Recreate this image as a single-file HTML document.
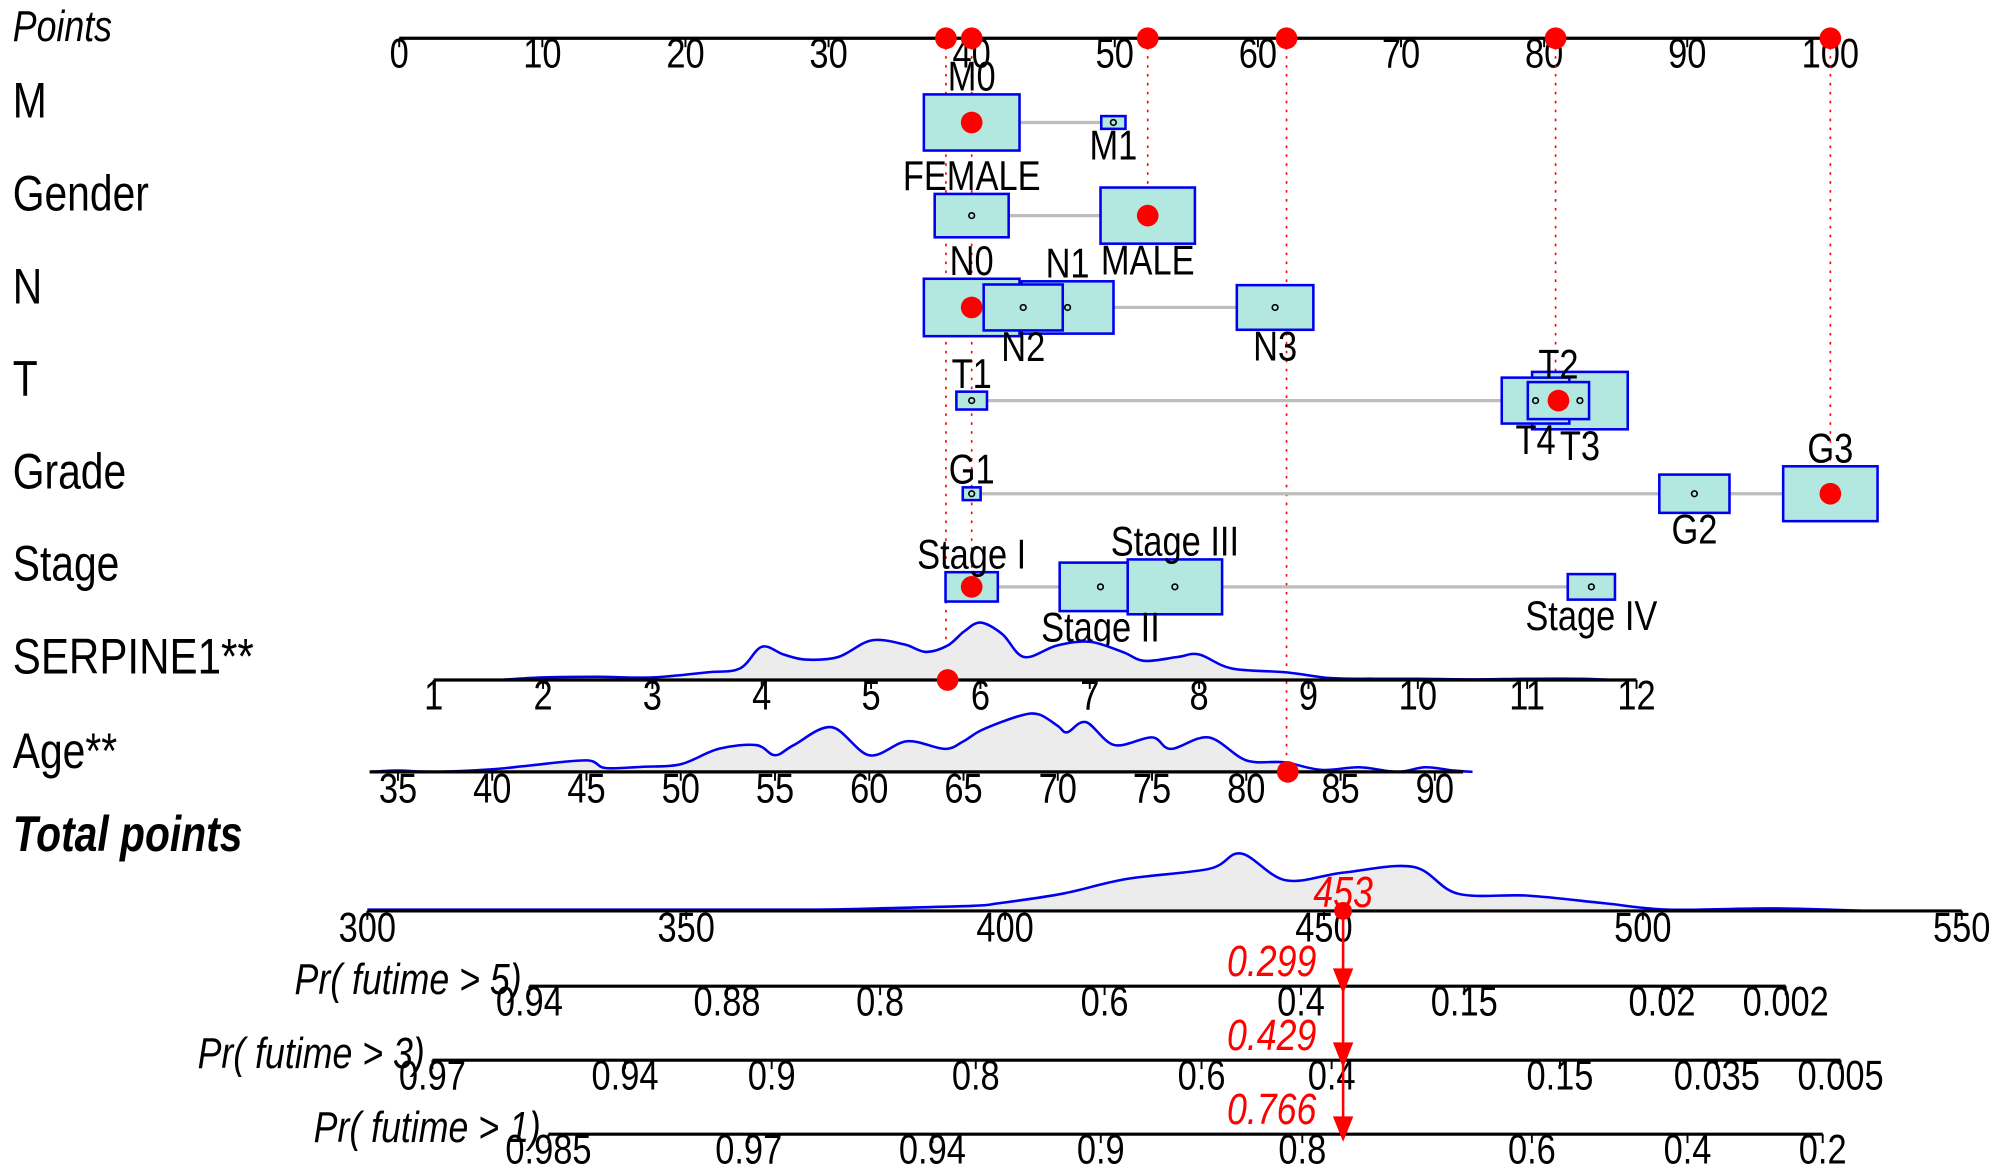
<!DOCTYPE html>
<html><head><meta charset="utf-8"><style>
html,body{margin:0;padding:0;background:#fff;}
svg{display:block;font-family:"Liberation Sans",Arial,sans-serif;}
</style></head><body>
<svg id="chart" width="2000" height="1175" viewBox="0 0 1568 921" preserveAspectRatio="none" xmlns="http://www.w3.org/2000/svg"></svg>
<script>
// ---------- data ----------
const pointTicks = [0,10,20,30,40,50,60,70,80,90,100];
const selectedPoints = [38.2,40,52.3,62,80.8,100];
const rowNames = ["M","Gender","N","T","Grade","Stage"];
const mLevels = ["M0","M1"];           const mPts = [40,49.9];    const mSize=[[37.5,22],[9.5,5]];  const mLab=["above","below"];
const gLevels = ["FEMALE","MALE"];     const gPts = [40,52.3];    const gSize=[[29,17],[37,22]];    const gLab=["above","below"];
const nLevels = ["N0","N1","N2","N3"]; const nPts = [40,46.7,43.6,61.2]; const nSize=[[37.5,22.5],[36,20.5],[31,18],[30,17.5]]; const nLab=["above","above","below","below"];
const tLevels = ["T1","T3","T4","T2"]; const tPts = [40,82.5,79.4,81];   const tSize=[[12,7],[37.5,22.5],[26.5,18],[24,14.5]]; const tLab=["above","below","below","above"];
const grLevels = ["G1","G2","G3"];     const grPts = [40,90.5,100];      const grSize=[[7,5],[27.5,15],[37,21.5]]; const grLab=["above","below","above"];
const sLevels = ["Stage I","Stage II","Stage III","Stage IV"]; const sPts=[40,49,54.2,83.3]; const sSize=[[20.5,11.5],[32,19],[37,21.5],[18.5,10]]; const sLab=["above","below","above","below"];
const selected = {M:"M0",Gender:"MALE",N:"N0",T:"T2",Grade:"G3",Stage:"Stage I"};
const serTicks = [1,2,3,4,5,6,7,8,9,10,11,12];
const serDensX = [1.6,2,2.5,3,3.5,3.8,4,4.2,4.4,4.7,5,5.3,5.5,5.7,5.85,6,6.2,6.4,6.7,7,7.3,7.5,7.8,8,8.3,8.8,9.2,9.6,10,10.5,11,11.5,11.8];
const serDensY = [0,2,2.5,2,6,9,26,20,16,18,31,28,22,27,38,45,36,18,27,30,22,15,18,20,9,6,1.5,1,1,0.5,1,1,0];
const serSelected = 5.7;
const ageTicks = [35,40,45,50,55,60,65,70,75,80,85,90];
const ageDensX = [33.5,35,37,40,42,45,46,48,50,52,54,55,56,58,60,62,64,65,66,68,69,70,70.5,71.5,73,75,76,78,80,82,84,86,88,89.5,91,92];
const ageDensY = [0,1,0,2,5,9,3,4,6,18,21,13,21,35,13,24,18,24,33,44,45,36,31,39,21,27,18,27,9,7.5,1.5,3.6,0,3.6,1,0];
const ageSelected = 82.2;
const totalTicks = [300,350,400,450,500,550];
const totDensX = [300,320,350,370,380,395,399,409,419,432,437,444,453,464,471,482,494,504,520,535];
const totDensY = [1,1,1,1,2,4,6,13.5,25,33,45,24,30,34.5,13.5,12,6,1,2,0];
const totalSelected = 453;
const pr5Labels = ["0.94","0.88","0.8","0.6","0.4","0.15","0.02","0.002"];
const pr5AtTotal = [325.4,356.4,380.4,415.6,446.4,472,503,522.4];
const pr3Labels = ["0.97","0.94","0.9","0.8","0.6","0.4","0.15","0.035","0.005"];
const pr3AtTotal = [310.2,340.4,363.4,395.4,430.8,451.2,487,511.6,531];
const pr1Labels = ["0.985","0.97","0.94","0.9","0.8","0.6","0.4","0.2"];
const pr1AtTotal = [328.4,359.8,388.6,415,446.6,482.6,507,528.2];
const predValues = ["0.299","0.429","0.766"];

// ---------- scales ----------
const ptsX = p => 313 + 11.22*p;
const serX = v => 340 + (v-1)*85.73;
const ageX = v => 312 + (v-35)*14.78;
const totX = v => 288 + (v-300)*5;

const svg = document.getElementById('chart');
const NS = "http://www.w3.org/2000/svg";
const VS = 1.22;
function mk(tag, attrs, parent){ const e=document.createElementNS(NS,tag); for(const k in attrs) e.setAttribute(k,attrs[k]); (parent||svg).appendChild(e); return e; }
function txt(s, x, y, attrs, parent){ const e=mk('text',Object.assign({x:0,y:0,transform:`translate(${x},${y}) scale(1,${VS})`},attrs||{}),parent); e.textContent=s; return e; }
const TF = 27;

// ---------- Points axis ----------
const gAx = mk('g',{});


txt("Points",10,32,{'font-size':28,'font-style':'italic'},gAx);
mk('line',{x1:ptsX(0),x2:ptsX(100),y1:30,y2:30,stroke:'#000','stroke-width':2.5},gAx);
pointTicks.forEach(t=>{
  mk('line',{x1:ptsX(t),x2:ptsX(t),y1:30,y2:37,stroke:'#000','stroke-width':1.5},gAx);
  const e=txt(String(t),ptsX(t),53,{'font-size':TF,'text-anchor':'middle'},gAx);
  
  
});

// ---------- row labels ----------
const rowLabelYs = [80,153,226,298,371,443];
rowNames.forEach((n,i)=>{
  const e=txt(n,10,rowLabelYs[i]+12,{'font-size':32},svg);
  
  
});

// ---------- dotted guide lines ----------
const guideEnds = [533,460,169,605,314,387];
selectedPoints.forEach((p,i)=>{
  mk('line',{x1:ptsX(p),x2:ptsX(p),y1:30,y2:guideEnds[i],stroke:'#f00','stroke-width':1.3,'stroke-dasharray':'2,5'});
});
selectedPoints.forEach(p=>{ mk('circle',{cx:ptsX(p),cy:30,r:8.5,fill:'#f00'}); });

// ---------- categorical rows ----------
function catRow(name, y, levels, pts, sizes, labs){
  const g=mk('g',{});
  
  
  const xs=pts.map(ptsX);
  mk('line',{x1:Math.min(...xs),x2:Math.max(...xs),y1:y,y2:y,stroke:'#bdbdbd','stroke-width':2.5},g);
  levels.forEach((lv,i)=>{
    const x=xs[i], w=sizes[i][0], h=sizes[i][1];
    const r=mk('rect',{x:x-w,y:y-h,width:2*w,height:2*h,fill:'#b2e8df',stroke:'#0000ee','stroke-width':2},g);
    
    
  });
  levels.forEach((lv,i)=>{
    const x=xs[i], h=sizes[i][1];
    if(selected[name]===lv){ mk('circle',{cx:x,cy:y,r:8.5,fill:'#f00'},g); }
    else { mk('circle',{cx:x,cy:y,r:2.2,fill:'none',stroke:'#000','stroke-width':1.3},g); }
    const ly = labs[i]==="above" ? y-h-3 : y+h+24;
    const t=txt(lv,x,ly,{'font-size':TF,'text-anchor':'middle'},g);
    
    
  });
}
catRow("M",96,mLevels,mPts,mSize,mLab);
catRow("Gender",169,gLevels,gPts,gSize,gLab);
catRow("N",241,nLevels,nPts,nSize,nLab);
catRow("T",314,tLevels,tPts,tSize,tLab);
catRow("Grade",387,grLevels,grPts,grSize,grLab);
catRow("Stage",460,sLevels,sPts,sSize,sLab);

// ---------- density helper (smoothed) ----------
function smoothPath(P){
  let d="M"+P[0][0]+","+P[0][1];
  for(let i=0;i<P.length-1;i++){
    const p0=P[Math.max(0,i-1)],p1=P[i],p2=P[i+1],p3=P[Math.min(P.length-1,i+2)];
    const c1=[p1[0]+(p2[0]-p0[0])/6,p1[1]+(p2[1]-p0[1])/6];
    const c2=[p2[0]-(p3[0]-p1[0])/6,p2[1]-(p3[1]-p1[1])/6];
    d+=` C${c1[0]},${c1[1]} ${c2[0]},${c2[1]} ${p2[0]},${p2[1]}`;
  }
  return d;
}
function density(xs, ys, sx, base, name, parent){
  const P=xs.map((v,i)=>[sx(v),base-ys[i]]);
  const line=smoothPath(P);
  const a=mk('path',{d:line+` L${P[P.length-1][0]},${base} L${P[0][0]},${base} Z`,fill:'#ececec',stroke:'none'},parent);
  
  
  const p=mk('path',{d:line,fill:'none',stroke:'#0000ee','stroke-width':2,'stroke-linejoin':'round'},parent);
  
  
}

// ---------- SERPINE1 ----------
const gS=mk('g',{});


txt("SERPINE1**",10,528,{'font-size':32,textLength:189,lengthAdjust:'spacingAndGlyphs'},gS);
density(serDensX,serDensY,serX,533,'serpine1',gS);
mk('line',{x1:serX(1),x2:serX(12),y1:533,y2:533,stroke:'#000','stroke-width':2.5},gS);
serTicks.forEach(t=>{
  mk('line',{x1:serX(t),x2:serX(t),y1:533,y2:540,stroke:'#000','stroke-width':1.5},gS);
  txt(String(t),serX(t),556,{'font-size':TF,'text-anchor':'middle'},gS);
});
mk('circle',{cx:serX(serSelected),cy:533,r:8.5,fill:'#f00'},gS);

// ---------- Age ----------
const gA=mk('g',{});


txt("Age**",10,602,{'font-size':32},gA);
density(ageDensX,ageDensY,ageX,605,'age',gA);
mk('line',{x1:ageX(33.5),x2:ageX(91.5),y1:605,y2:605,stroke:'#000','stroke-width':2.5},gA);
ageTicks.forEach(t=>{
  mk('line',{x1:ageX(t),x2:ageX(t),y1:605,y2:612,stroke:'#000','stroke-width':1.5},gA);
  txt(String(t),ageX(t),629,{'font-size':TF,'text-anchor':'middle'},gA);
});
mk('circle',{cx:ageX(ageSelected),cy:605,r:8.5,fill:'#f00'},gA);

// ---------- Total points ----------
const gT=mk('g',{});


txt("Total points",10,667,{'font-size':32,'font-style':'italic','font-weight':'bold'},gT);
density(totDensX,totDensY,totX,714,'total',gT);
mk('line',{x1:totX(300),x2:totX(550),y1:714,y2:714,stroke:'#000','stroke-width':2.5},gT);
totalTicks.forEach(t=>{
  mk('line',{x1:totX(t),x2:totX(t),y1:714,y2:721,stroke:'#000','stroke-width':1.5},gT);
  txt(String(t),totX(t),738,{'font-size':TF,'text-anchor':'middle'},gT);
});

// ---------- probability axes ----------
function probAxis(label, labels, at, y, name){
  const g=mk('g',{});
  
  
  const x0=totX(at[0]), x1=totX(at[at.length-1]);
  txt(label,x0-6,y+6,{'font-size':28,'font-style':'italic','text-anchor':'end'},g);
  mk('line',{x1:x0,x2:x1,y1:y,y2:y,stroke:'#000','stroke-width':2.5},g);
  labels.forEach((s,i)=>{
    mk('line',{x1:totX(at[i]),x2:totX(at[i]),y1:y,y2:y+7,stroke:'#000','stroke-width':1.5},g);
    txt(s,totX(at[i]),y+23,{'font-size':TF,'text-anchor':'middle'},g);
  });
}
probAxis("Pr( futime > 5)",pr5Labels,pr5AtTotal,773,'pr-5-year-axis');
probAxis("Pr( futime > 3)",pr3Labels,pr3AtTotal,831,'pr-3-year-axis');
probAxis("Pr( futime > 1)",pr1Labels,pr1AtTotal,889,'pr-1-year-axis');

// ---------- prediction arrow ----------
const gP=mk('g',{});


const px=totX(totalSelected);
mk('line',{x1:px,x2:px,y1:714,y2:889,stroke:'#f00','stroke-width':2},gP);
mk('circle',{cx:px,cy:714,r:7,fill:'#f00'},gP);
txt(String(totalSelected),px,711,{'font-size':28,'font-style':'italic','fill':'#f00','text-anchor':'middle'},gP);
[773,831,889].forEach((y,i)=>{
  mk('path',{d:`M${px-8},${y-14} L${px+8},${y-14} L${px},${y+6} Z`,fill:'#f00'},gP);
  const t=txt(predValues[i],px-21,y-8,{'font-size':28,'font-style':'italic','fill':'#f00','text-anchor':'end'},gP);
  
  
});
</script>
</body></html>
